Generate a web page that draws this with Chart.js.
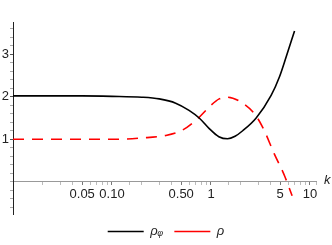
<!DOCTYPE html>
<html>
<head>
<meta charset="utf-8">
<script src="https://cdn.jsdelivr.net/npm/chart.js@4/dist/chart.umd.min.js"></script>
<style>
  html, body { margin: 0; padding: 0; background: #fff; }
</style>
</head>
<body>
<canvas id="chart" width="332" height="245"></canvas>
<script>
// values
const kPhi = [0.01, 0.05, 0.1, 0.2, 0.3, 0.44, 0.6, 0.76, 0.96, 1.2, 1.47, 1.75, 2.09, 2.86, 4.05, 4.92, 5.75, 6.98];
const rhoPhi = [2.02, 2.02, 2.01, 1.99, 1.95, 1.85, 1.68, 1.5, 1.25, 1.06, 1.01, 1.07, 1.2, 1.5, 2.03, 2.47, 2.94, 3.55];

const kRho = [0.01, 0.05, 0.11, 0.2, 0.35, 0.52, 0.73, 0.96, 1.21, 1.47, 2.09, 2.75, 3.33, 4.37, 5.53, 6.6];
const rho = [1.0, 1.0, 1.0, 1.03, 1.09, 1.22, 1.48, 1.76, 1.95, 1.99, 1.85, 1.6, 1.28, 0.65, 0.14, -0.33];

const xTickValues = [0.05, 0.1, 0.5, 1, 5, 10];
const xTickText = ["0.05", "0.10", "0.50", "1", "5", "10"];
const yTickValues = [1, 2, 3];

const FONT = "'Liberation Sans', Arial, sans-serif";

function xLabel(v) {
    for (let i = 0; i < xTickValues.length; i++) {
        if (Math.abs(v - xTickValues[i]) / xTickValues[i] < 1e-6) return xTickText[i];
    }
    return "";
}

// "k" at the right end of the horizontal axis
const axisTitle = {
    id: "axisTitle",
    afterDraw(chart) {
        const ctx = chart.ctx;
        const y0 = chart.scales.y.getPixelForValue(0);
        ctx.save();
        ctx.font = "italic 13px " + FONT;
        ctx.fillStyle = "#222";
        ctx.textAlign = "left";
        ctx.textBaseline = "middle";
        ctx.fillText("k", chart.chartArea.right + 8, y0 - 1);
        ctx.restore();
    }
};

new Chart(document.getElementById("chart").getContext("2d"), {
    type: "line",
    data: {
        datasets: [{
            label: "\u03C1\u1D69",
            data: kPhi.map((k, i) => ({ x: k, y: rhoPhi[i] })),
            borderColor: "#000",
            borderWidth: 1.6,
            pointRadius: 0,
            cubicInterpolationMode: "monotone",
            fill: false
        }, {
            label: "\u03C1",
            data: kRho.map((k, i) => ({ x: k, y: rho[i] })),
            borderColor: "#ff0000",
            borderWidth: 1.6,
            borderDash: [11, 8],
            pointRadius: 0,
            cubicInterpolationMode: "monotone",
            fill: false
        }]
    },
    options: {
        responsive: false,
        animation: false,
        layout: { padding: { top: 22, right: 0, left: 0, bottom: -3 } },
        plugins: {
            tooltip: { enabled: false },
            legend: {
                position: "bottom",
                labels: {
                    usePointStyle: true,
                    pointStyle: "line",
                    pointStyleWidth: 36,
                    boxHeight: 13,
                    padding: 11,
                    color: "#222",
                    font: { family: FONT, size: 13, style: "italic" }
                }
            }
        },
        scales: {
            x: {
                type: "logarithmic",
                position: { y: 0 },
                min: 0.01,
                max: 11.5,
                border: { color: "#999", width: 1 },
                grid: {
                    drawOnChartArea: false,
                    drawTicks: true,
                    tickLength: 3,
                    tickColor: (c) => (c.tick && xLabel(c.tick.value) ? "#777" : "#bbb")
                },
                ticks: {
                    autoSkip: false,
                    maxRotation: 0,
                    padding: 2,
                    color: "#222",
                    font: { family: FONT, size: 13 },
                    callback: (v) => xLabel(v)
                }
            },
            y: {
                min: -0.76,
                max: 3.76,
                afterBuildTicks: (axis) => {
                    const t = [];
                    for (let i = -3; i <= 18; i++) t.push({ value: +(i * 0.2).toFixed(1) });
                    axis.ticks = t;
                },
                afterFit: (axis) => { axis.width = 13; },
                border: { color: "#222", width: 1 },
                grid: {
                    drawOnChartArea: false,
                    drawTicks: true,
                    tickLength: 3,
                    tickColor: (c) => (c.tick && yTickValues.includes(c.tick.value) ? "#555" : "#aaa")
                },
                ticks: {
                    autoSkip: false,
                    padding: 1,
                    color: "#222",
                    font: { family: FONT, size: 13 },
                    callback: (v) => (yTickValues.includes(v) ? String(v) : "")
                }
            },
            // empty space on the right, keeps room for the "k"
            yRight: {
                position: "right",
                min: -0.76,
                max: 3.76,
                afterFit: (axis) => { axis.width = 16; },
                border: { display: false },
                grid: { display: false },
                ticks: { display: false }
            }
        }
    },
    plugins: [axisTitle]
});
</script>
</body>
</html>
